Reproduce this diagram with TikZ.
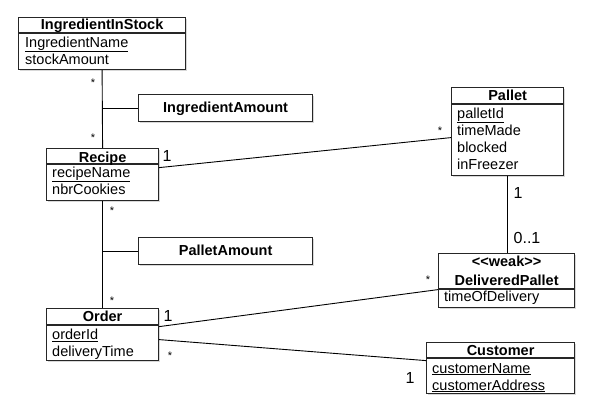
\documentclass[tikz,border=0pt]{standalone}
\usepackage{fontspec}
\setmainfont{Liberation Sans}
\usetikzlibrary{calc,shadows}

\begin{document}
\begin{tikzpicture}[x=1pt,y=-1pt,
    cls/.style={draw=black!85,line width=1.2pt,fill=white,anchor=north west,
      inner sep=0pt,drop shadow={shadow xshift=1pt,shadow yshift=-1.6pt,fill=black!30}},
    sep/.style={line width=1.2pt,draw=black!85},
    ttl/.style={font=\fontsize{14.5}{17}\selectfont\bfseries,anchor=base,inner sep=0pt},
    att/.style={font=\fontsize{14.5}{17}\selectfont,anchor=base west,inner sep=0pt},
    star/.style={font=\fontsize{11}{12}\selectfont,anchor=base,inner sep=0pt},
    one/.style={font=\fontsize{16}{18}\selectfont,anchor=base,inner sep=0pt},
    asc/.style={line width=0.9pt}]
  \useasboundingbox (0,0) rectangle (593,416);

  % classes
  \node[cls,minimum width=167pt,minimum height=52pt] (stock) at (18,17) {};
  \draw[sep] ($(stock.north west)+(0,16)$) -- ($(stock.north east)+(0,16)$);
  \node[ttl] (stockT) at (stock.north |- 0,29) {IngredientInStock};
  \node[att] (stock0) at (25,47) {\underline{IngredientName}};
  \node[att] (stock1) at (25,64) {stockAmount};

  \node[cls,minimum width=174pt,minimum height=27pt] (iamount) at (138,94) {};
  \node[ttl] (iamountT) at (iamount.north |- 0,112.5) {IngredientAmount};

  \node[cls,minimum width=112pt,minimum height=52pt] (recipe) at (46,148) {};
  \draw[sep] ($(recipe.north west)+(0,16)$) -- ($(recipe.north east)+(0,16)$);
  \node[ttl] (recipeT) at (recipe.north |- 0,162) {Recipe};
  \node[att] (recipe0) at (52,177) {\underline{recipeName}};
  \node[att] (recipe1) at (52,194) {nbrCookies};

  \node[cls,minimum width=112pt,minimum height=88pt] (pallet) at (451,87) {};
  \draw[sep] ($(pallet.north west)+(0,17)$) -- ($(pallet.north east)+(0,17)$);
  \node[ttl] (palletT) at (pallet.north |- 0,100) {Pallet};
  \foreach \a [count=\i from 0] in {\underline{palletId},timeMade,blocked,inFreezer}
    \node[att] (pallet\i) at (457,118+17.3*\i) {\a};

  \node[cls,minimum width=174pt,minimum height=27pt] (pamount) at (138,237) {};
  \node[ttl] (pamountT) at (pamount.north |- 0,255.5) {PalletAmount};

  \node[cls,minimum width=112pt,minimum height=52pt] (order) at (46,308) {};
  \draw[sep] ($(order.north west)+(0,17)$) -- ($(order.north east)+(0,17)$);
  \node[ttl] (orderT) at (order.north |- 0,321.5) {Order};
  \node[att] (order0) at (52,339.5) {\underline{orderId}};
  \node[att] (order1) at (52,356.5) {deliveryTime};

  \node[cls,minimum width=136pt,minimum height=54pt] (dpallet) at (438,253) {};
  \draw[sep] ($(dpallet.north west)+(0,36)$) -- ($(dpallet.north east)+(0,36)$);
  \node[ttl] (dpalletS) at (dpallet.north |- 0,266) {{<}{<}weak{>}{>}};
  \node[ttl] (dpalletT) at (dpallet.north |- 0,285) {DeliveredPallet};
  \node[att] (dpallet0) at (444,301.5) {timeOfDelivery};

  \node[cls,minimum width=148pt,minimum height=51pt] (customer) at (426,342) {};
  \draw[sep] ($(customer.north west)+(0,16)$) -- ($(customer.north east)+(0,16)$);
  \node[ttl] (customerT) at (customer.north |- 0,355.5) {Customer};
  \node[att] (customer0) at (432,373) {\underline{customerName}};
  \node[att] (customer1) at (432,390) {\underline{customerAddress}};

  % associations
  \draw[asc] (stock.south) -- (recipe.north);
  \draw[asc] (iamount.west) -- (iamount.west -| recipe.north);
  \draw[asc] (recipe.south) -- (order.north);
  \draw[asc] (pamount.west) -- (pamount.west -| order.north);
  \draw[asc] ($(recipe.east)+(0,-7)$) -- ($(pallet.west)+(0,6)$);
  \draw[asc] (pallet.south) -- (pallet.south |- dpallet.north);
  \draw[asc] ($(order.east)+(0,-8)$) -- ($(dpallet.west)+(0,9)$);
  \draw[asc] ($(order.east)+(0,5)$) -- ($(customer.west)+(0,-7.5)$);

  % multiplicities
  \node[star] (m1) at (93,86) {*};
  \node[star] (m2) at (93,141) {*};
  \node[one]  (m3) at (167,161) {1};
  \node[star] (m4) at (440,134) {*};
  \node[one]  (m5) at (518,198) {1};
  \node[one]  (m6) at (527,243) {0..1};
  \node[star] (m7) at (112,214) {*};
  \node[star] (m8) at (112,304) {*};
  \node[one]  (m9) at (168,321) {1};
  \node[star] (m10) at (428,283) {*};
  \node[star] (m11) at (170,359) {*};
  \node[one]  (m12) at (410,383) {1};
\end{tikzpicture}
\end{document}
